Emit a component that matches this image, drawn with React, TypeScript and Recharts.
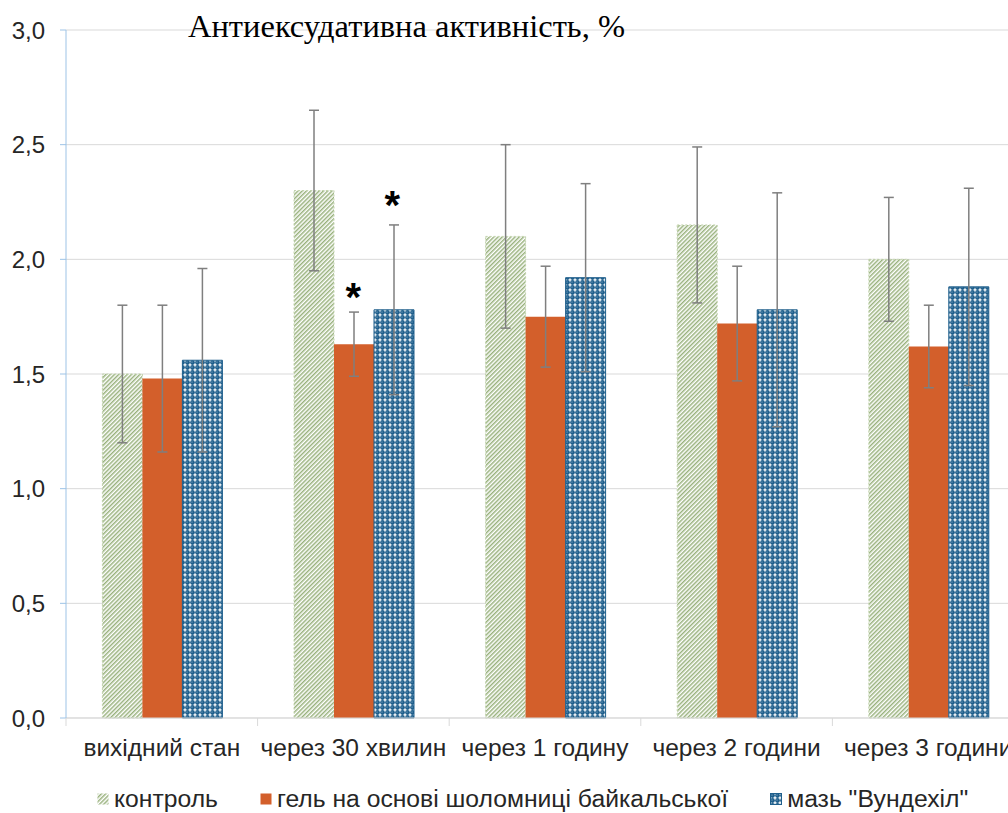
import React from "react";
import { BarChart, Bar, XAxis, YAxis, CartesianGrid, ErrorBar, Legend, ReferenceDot } from "recharts";

const categories = ["вихідний стан", "через 30 хвилин", "через 1 годину", "через 2 години", "через 3 години"];
const seriesNames = ["контроль", "гель на основі шоломниці байкальської", "мазь \"Вундехіл\""];

const control = [1.5, 2.3, 2.1, 2.15, 2.0];
const controlErr = [0.3, 0.35, 0.4, 0.34, 0.27];
const gel = [1.48, 1.63, 1.75, 1.72, 1.62];
const gelErr = [0.32, 0.14, 0.22, 0.25, 0.18];
const wund = [1.56, 1.78, 1.92, 1.78, 1.88];
const wundErr = [0.4, 0.37, 0.41, 0.51, 0.43];

// significance marks (*)
const gelSig = [false, true, false, false, false];
const wundSig = [false, true, false, false, false];

const yTicks = [0, 0.5, 1, 1.5, 2, 2.5, 3];

const data = categories.map((name, i) => ({
  name,
  control: control[i],
  controlErr: controlErr[i],
  gel: gel[i],
  gelErr: gelErr[i],
  wund: wund[i],
  wundErr: wundErr[i],
}));

const CHART_W = 1030;
const CHART_H = 813;
const MARGIN = { top: 30, right: 6, left: 0, bottom: 0 };
const Y_W = 66;
const PLOT_W = CHART_W - MARGIN.left - MARGIN.right - Y_W;
const BAND = PLOT_W / categories.length;
const CAT_GAP = 0.19;
const BAR_W = Math.floor((BAND * (1 - 2 * CAT_GAP)) / 3);

const TEXT = "#262626";
const FONT = "'Liberation Sans', Arial, sans-serif";
const GEL = "#d35f2b";
const BLUE = "#1f5f8c";

function XTick(props: any) {
  const { x, y, payload, index } = props;
  const half = BAND / 2;
  return (
    <g>
      {index === 0 && <line x1={x - half} y1={y} x2={x - half} y2={y + 8} stroke="#d9d9d9" />}
      <line x1={x + half} y1={y} x2={x + half} y2={y + 8} stroke="#d9d9d9" />
      <text x={x} y={y + 38} textAnchor="middle" fontSize={24.5} fill={TEXT}>
        {payload.value}
      </text>
    </g>
  );
}

function star(dx: number, lift: number) {
  return (p: any) => (
    <text x={p.cx + dx} y={p.cy - lift + 23} textAnchor="middle" fontSize={40} fontWeight="bold" fill="#000">
      *
    </text>
  );
}

function Swatch({ fill, stroke }: { fill: string; stroke?: string }) {
  return (
    <svg width={12} height={12} style={{ marginRight: 5 }}>
      <rect x={0.5} y={0.5} width={11} height={11} fill={fill} stroke={stroke || "none"} />
    </svg>
  );
}

function renderLegend() {
  const fills = ["url(#stripes)", GEL, "url(#dots)"];
  const strokes = [undefined, undefined, BLUE];
  return (
    <div style={{ display: "flex", alignItems: "center", boxSizing: "border-box", paddingLeft: 97, paddingTop: 6, height: 34, fontSize: 24.7, color: TEXT, whiteSpace: "nowrap" }}>
      {seriesNames.map((n, i) => (
        <div key={n} style={{ display: "flex", alignItems: "center", marginRight: 42 }}>
          <Swatch fill={fills[i]} stroke={strokes[i]} />
          <span>{n}</span>
        </div>
      ))}
    </div>
  );
}

export default function App() {
  return (
    <div style={{ position: "fixed", left: 0, top: 0, width: 1008, height: 813, overflow: "hidden", background: "#fff", fontFamily: FONT }}>
      <svg width={0} height={0} style={{ position: "absolute" }}>
        <defs>
          <pattern id="stripes" width={3} height={3} patternUnits="userSpaceOnUse" patternTransform="rotate(45)">
            <rect width={3} height={3} fill="#fff" />
            <line x1={0.75} y1={0} x2={0.75} y2={3} stroke="#93ad76" strokeWidth={1.4} />
          </pattern>
          <pattern id="dots" width={5} height={5} patternUnits="userSpaceOnUse">
            <rect width={5} height={5} fill="#fff" />
            <circle cx={2.5} cy={2.5} r={2.4} fill={BLUE} />
            <circle cx={2} cy={2} r={0.55} fill="#a9c3d9" />
          </pattern>
        </defs>
      </svg>
      <BarChart width={CHART_W} height={CHART_H} data={data} margin={MARGIN} barCategoryGap={`${CAT_GAP * 100}%`} barGap={0}>
        <CartesianGrid vertical={false} stroke="#d9d9d9" />
        <XAxis
          dataKey="name"
          height={61}
          axisLine={{ stroke: "#d9d9d9" }}
          tickLine={false}
          tickSize={0}
          tickMargin={0}
          interval={0}
          tick={<XTick />}
        />
        <YAxis
          width={Y_W}
          domain={[0, 3]}
          ticks={yTicks}
          interval={0}
          axisLine={{ stroke: "#9dc3e6" }}
          tickLine={{ stroke: "#9dc3e6" }}
          tickSize={6}
          tickMargin={15}
          tick={{ fontSize: 24, fill: TEXT }}
          tickFormatter={(v: number) => v.toFixed(1).replace(".", ",")}
        />
        <Legend verticalAlign="bottom" content={renderLegend} wrapperStyle={{ left: 0, width: CHART_W }} />
        <Bar dataKey="control" name={seriesNames[0]} fill="url(#stripes)" stroke="#c2d3ad" strokeDasharray="2 2" isAnimationActive={false}>
          <ErrorBar dataKey="controlErr" width={5} stroke="#7f7f7f" strokeWidth={1.5} isAnimationActive={false} />
        </Bar>
        <Bar dataKey="gel" name={seriesNames[1]} fill={GEL} isAnimationActive={false}>
          <ErrorBar dataKey="gelErr" width={5} stroke="#7f7f7f" strokeWidth={1.5} isAnimationActive={false} />
        </Bar>
        <Bar dataKey="wund" name={seriesNames[2]} fill="url(#dots)" stroke={BLUE} isAnimationActive={false}>
          <ErrorBar dataKey="wundErr" width={5} stroke="#7f7f7f" strokeWidth={1.5} isAnimationActive={false} />
        </Bar>
        {data.map((d, i) =>
          gelSig[i] ? (
            <ReferenceDot key={`g${i}`} x={d.name} y={d.gel + d.gelErr} r={1} ifOverflow="visible" shape={star(0, 24)} />
          ) : null
        )}
        {data.map((d, i) =>
          wundSig[i] ? (
            <ReferenceDot key={`w${i}`} x={d.name} y={d.wund + d.wundErr} r={1} ifOverflow="visible" shape={star(BAR_W, 29)} />
          ) : null
        )}
      </BarChart>
      <div style={{ position: "absolute", left: 188, top: 10, fontFamily: "'Liberation Serif', 'Times New Roman', serif", fontSize: 32.5, lineHeight: "32px", color: "#000", whiteSpace: "nowrap" }}>
        Антиексудативна активність, %
      </div>
    </div>
  );
}
